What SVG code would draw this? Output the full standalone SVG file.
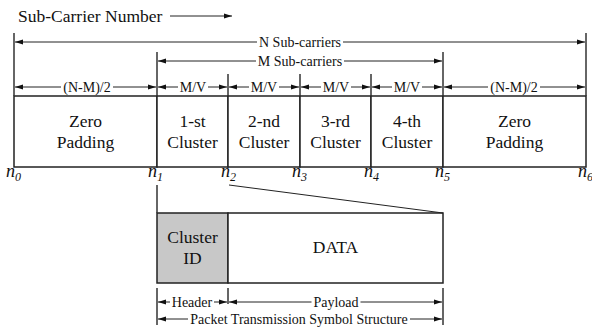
<svg xmlns="http://www.w3.org/2000/svg" width="592" height="331" viewBox="0 0 592 331">
  <style>
    .lbl { font-family: "Liberation Serif", "Times New Roman", serif; font-size: 17.5px; fill: #111; text-anchor: middle; }
    .dim { font-family: "Liberation Serif", "Times New Roman", serif; font-size: 14px; fill: #111; text-anchor: middle; }
    .idx { font-family: "Liberation Serif", "Times New Roman", serif; font-size: 18px; font-style: italic; fill: #111; }
    .box { fill: #fff; stroke: #222; stroke-width: 1.5; }
    .hdr { fill: #c8c8c8; stroke: #222; stroke-width: 1.5; }
    .ln { stroke: #222; stroke-width: 1; fill: none; }
    .tick { stroke: #333; stroke-width: 1.5; fill: none; }
    .arr { stroke: #222; stroke-width: 1; fill: none; marker-start: url(#ah); marker-end: url(#ah); }
  </style>
  <defs>
    <marker id="ah" markerUnits="userSpaceOnUse" markerWidth="8" markerHeight="6" refX="8" refY="3" orient="auto-start-reverse">
      <path d="M0,0.5 L8,3 L0,5.5 z" fill="#111"/>
    </marker>
  </defs>

  <!-- axis caption -->
  <text class="lbl" x="18" y="22" style="text-anchor:start">Sub-Carrier Number</text>
  <line class="ln" x1="170" y1="16" x2="232" y2="16" marker-end="url(#ah)"/>

  <!-- spectrum blocks -->
  <g id="zero-left">
    <rect class="box" x="14" y="96" width="143" height="71"/>
    <text class="lbl" x="85.5" y="127">Zero</text>
    <text class="lbl" x="85.5" y="148">Padding</text>
  </g>
  <g id="cluster-1">
    <rect class="box" x="157" y="96" width="71" height="71"/>
    <text class="lbl" x="192.5" y="127">1-st</text>
    <text class="lbl" x="192.5" y="148">Cluster</text>
  </g>
  <g id="cluster-2">
    <rect class="box" x="228" y="96" width="72" height="71"/>
    <text class="lbl" x="264" y="127">2-nd</text>
    <text class="lbl" x="264" y="148">Cluster</text>
  </g>
  <g id="cluster-3">
    <rect class="box" x="300" y="96" width="71" height="71"/>
    <text class="lbl" x="335.5" y="127">3-rd</text>
    <text class="lbl" x="335.5" y="148">Cluster</text>
  </g>
  <g id="cluster-4">
    <rect class="box" x="371" y="96" width="72" height="71"/>
    <text class="lbl" x="407" y="127">4-th</text>
    <text class="lbl" x="407" y="148">Cluster</text>
  </g>
  <g id="zero-right">
    <rect class="box" x="443" y="96" width="143" height="71"/>
    <text class="lbl" x="514.5" y="127">Zero</text>
    <text class="lbl" x="514.5" y="148">Padding</text>
  </g>

  <!-- boundary indices -->
  <g id="indices">
    <text class="idx" x="6" y="177">n<tspan font-size="12" dy="4">0</tspan></text>
    <text class="idx" x="148" y="177">n<tspan font-size="12" dy="4">1</tspan></text>
    <text class="idx" x="221" y="177">n<tspan font-size="12" dy="4">2</tspan></text>
    <text class="idx" x="292" y="177">n<tspan font-size="12" dy="4">3</tspan></text>
    <text class="idx" x="364" y="177">n<tspan font-size="12" dy="4">4</tspan></text>
    <text class="idx" x="435" y="177">n<tspan font-size="12" dy="4">5</tspan></text>
    <text class="idx" x="578" y="177">n<tspan font-size="12" dy="4">6</tspan></text>
  </g>

  <!-- packet structure -->
  <g id="cluster-id">
    <rect class="hdr" x="157" y="213" width="71" height="70"/>
    <text class="lbl" x="192.5" y="243">Cluster</text>
    <text class="lbl" x="192.5" y="264">ID</text>
  </g>
  <g id="data">
    <rect class="box" x="228" y="213" width="215" height="70"/>
    <text class="lbl" x="335.5" y="253">DATA</text>
  </g>

  <g id="connectors">
    <!-- extension ticks above the blocks -->
    <line class="tick" x1="14" y1="33" x2="14" y2="96"/>
    <line class="tick" x1="586" y1="33" x2="586" y2="96"/>
    <line class="tick" x1="157" y1="52" x2="157" y2="96"/>
    <line class="tick" x1="443" y1="52" x2="443" y2="96"/>
    <line class="tick" x1="228" y1="74" x2="228" y2="96"/>
    <line class="tick" x1="300" y1="74" x2="300" y2="96"/>
    <line class="tick" x1="371" y1="74" x2="371" y2="96"/>

    <!-- dimension lines, broken around their labels -->
    <path class="arr" d="M15,42 H257 M343,42 H585"/>
    <text class="dim" x="300" y="46.5">N Sub-carriers</text>
    <path class="arr" d="M158,61 H256 M344,61 H442"/>
    <text class="dim" x="300" y="65.5">M Sub-carriers</text>

    <path class="arr" d="M15,87 H61 M113,87 H156"/>
    <text class="dim" x="87" y="91.5">(N-M)/2</text>
    <path class="arr" d="M158,87 H178 M208,87 H227"/>
    <text class="dim" x="193" y="91.5">M/V</text>
    <path class="arr" d="M229,87 H249 M279,87 H299"/>
    <text class="dim" x="264" y="91.5">M/V</text>
    <path class="arr" d="M301,87 H321 M351,87 H370"/>
    <text class="dim" x="336" y="91.5">M/V</text>
    <path class="arr" d="M372,87 H392 M422,87 H442"/>
    <text class="dim" x="407" y="91.5">M/V</text>
    <path class="arr" d="M444,87 H488 M540,87 H585"/>
    <text class="dim" x="514" y="91.5">(N-M)/2</text>

    <!-- expansion of the 1-st cluster -->
    <line class="tick" x1="157" y1="185" x2="157" y2="213"/>
    <line class="ln" x1="229" y1="185" x2="443" y2="213"/>

    <!-- packet dimension lines -->
    <line class="tick" x1="157" y1="288" x2="157" y2="325"/>
    <line class="tick" x1="228" y1="288" x2="228" y2="304"/>
    <line class="tick" x1="443" y1="288" x2="443" y2="325"/>
    <path class="arr" d="M158,302 H170 M214,302 H227"/>
    <text class="dim" x="192" y="306.5">Header</text>
    <path class="arr" d="M229,302 H311.5 M360.5,302 H442"/>
    <text class="dim" x="336" y="306.5">Payload</text>
    <path class="arr" d="M158,319 H188 M410,319 H442"/>
    <text class="dim" x="299" y="323.5">Packet Transmission Symbol Structure</text>
  </g>
</svg>
